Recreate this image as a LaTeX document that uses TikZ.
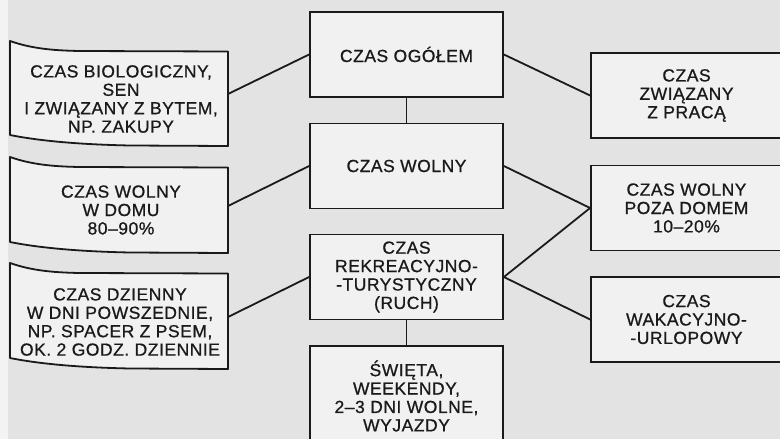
\documentclass[tikz,border=0pt]{standalone}
\usepackage{fontspec}
\setmainfont{Liberation Sans}[LetterSpace=3,FakeBold=0.8]
\definecolor{ink}{HTML}{1A1A1A}
\definecolor{bgc}{HTML}{E3E3E3}
\definecolor{boxfill}{HTML}{F1F1F1}
\definecolor{stripc}{HTML}{F3F3F3}
\newcommand\diagfont{\fontsize{17.5}{18.4}\selectfont}
\begin{document}
\begin{tikzpicture}[x=1pt,y=-1pt,
  cbox/.style={draw=ink, line width=1.8pt, fill=boxfill, minimum width=193pt, minimum height=85pt, align=center, inner sep=0pt, font=\diagfont, text=ink},
  rbox/.style={cbox, minimum width=191pt},
  ltext/.style={align=center, inner sep=0pt, font=\diagfont, text=ink},
  lbox/.style={draw=ink, line width=1.8pt, fill=boxfill, line join=round},
  conn/.style={draw=ink, line width=1.8pt}]
\useasboundingbox (0,0) rectangle (780,439);
\clip (0,0) rectangle (780,439);
\fill[bgc] (0,0) rectangle (780,439);
\fill[stripc] (0,0) rectangle (8,439);

% left wavy boxes
\draw[lbox, shift={(0,41)}] (10,0) .. controls (30,7) and (50,9.5) .. (80,10) -- (228,10.5) -- (228,105) -- (130,104.5) .. controls (80,103.5) and (40,100) .. (10,94) -- cycle;
\draw[lbox, shift={(0,157)}] (10,0) .. controls (30,7) and (50,9.5) .. (80,10) -- (228,10.5) -- (228,96) -- (130,95.5) .. controls (80,94.5) and (40,91) .. (10,85) -- cycle;
\draw[lbox, shift={(0,263)}] (10,0) .. controls (30,7) and (50,9.5) .. (80,10) -- (228,10.5) -- (228,106) -- (130,105.5) .. controls (80,104.5) and (40,101) .. (10,95) -- cycle;

\node[ltext] (bio) at (121,99) {CZAS BIOLOGICZNY,\\SEN\\I ZWIĄZANY Z BYTEM,\\NP. ZAKUPY};
\node[ltext] (dom) at (121,210) {CZAS WOLNY\\W DOMU\\80–90\%};
\node[ltext] (dzien) at (120,322) {CZAS DZIENNY\\W DNI POWSZEDNIE,\\NP. SPACER Z PSEM,\\OK. 2 GODZ. DZIENNIE};

\coordinate (bior) at (228,94);
\coordinate (domr) at (228,206);
\coordinate (dzienr) at (228,317);

% center boxes
\node[cbox] (ogol) at (406.5,54.5) {CZAS OGÓŁEM};
\node[cbox] (wolny) at (406.5,166) {CZAS WOLNY};
\node[cbox] (rek) at (406.5,277) {CZAS\\REKREACYJNO-\\-TURYSTYCZNY\\(RUCH)};
\node[cbox, minimum height=100pt] (swieta) at (406.5,396) {ŚWIĘTA,\\WEEKENDY,\\2–3 DNI WOLNE,\\WYJAZDY};

% right boxes
\node[rbox] (praca) at (686.5,95.5) {CZAS\\ZWIĄZANY\\Z PRACĄ};
\node[rbox] (poza) at (686.5,208) {CZAS WOLNY\\POZA DOMEM\\10–20\%};
\node[rbox] (wak) at (686.5,319.5) {CZAS\\WAKACYJNO-\\-URLOPOWY};

% connectors
\draw[conn] (ogol.west) -- (bior);
\draw[conn] (wolny.west) -- (domr);
\draw[conn] (rek.west) -- (dzienr);
\draw[conn] (ogol.south) -- (wolny.north);
\draw[conn] (rek.south) -- (swieta.north);
\draw[conn] (ogol.east) -- (praca.west);
\draw[conn] (wolny.east) -- (poza.west);
\draw[conn] (rek.east) -- (poza.west);
\draw[conn] (rek.east) -- (wak.west);
\end{tikzpicture}
\end{document}
